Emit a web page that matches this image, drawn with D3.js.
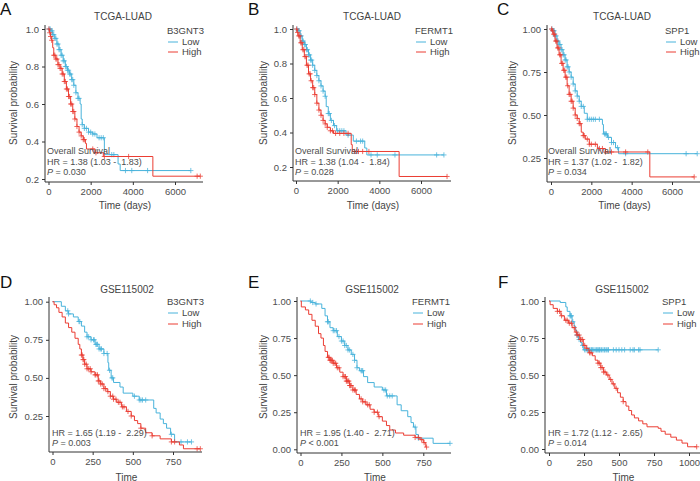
<!DOCTYPE html>
<html>
<head>
<meta charset="utf-8">
<script src="https://cdn.jsdelivr.net/npm/d3@7"></script>
<style>
  body { margin: 0; background: #fff; }
  text { font-family: "Liberation Sans", Arial, sans-serif; }
</style>
</head>
<body>
<svg id="chart" width="700" height="481"></svg>
<script>
// ---- data ----
const panelLetters = ["A", "B", "C", "D", "E", "F"];
const cohorts = ["TCGA-LUAD", "TCGA-LUAD", "TCGA-LUAD", "GSE115002", "GSE115002", "GSE115002"];
const genes = ["B3GNT3", "FERMT1", "SPP1", "B3GNT3", "FERMT1", "SPP1"];
const groups = ["Low", "High"];
const hrLabels = ["HR = 1.38 (1.03 -  1.83)", "HR = 1.38 (1.04 -  1.84)", "HR = 1.37 (1.02 -  1.82)",
                  "HR = 1.65 (1.19 -  2.29)", "HR = 1.95 (1.40 -  2.71)", "HR = 1.72 (1.12 -  2.65)"];
const pLabels = [" = 0.030", " = 0.028", " = 0.034", " = 0.003", " < 0.001", " = 0.014"];
const xTicksTcga = [0, 2000, 4000, 6000];
const xTicksGse = [0, 250, 500, 750];
const xTicksF = [0, 250, 500, 750, 1000];
const yTicksAB = [0.2, 0.4, 0.6, 0.8, 1.0];
const yTicksCD = [0.25, 0.50, 0.75, 1.00];
const yTicksEF = [0, 0.25, 0.50, 0.75, 1.00];

// step points [time, survival after step]
const aLow = [[0,1],[100,0.99],[200,0.97],[300,0.95],[400,0.92],[500,0.89],[600,0.86],[700,0.83],[800,0.80],[900,0.78],[1000,0.76],[1100,0.73],[1200,0.70],[1300,0.66],[1400,0.63],[1500,0.60],[1550,0.52],[1600,0.49],[1700,0.47],[1900,0.45],[2100,0.44],[2300,0.42],[2650,0.33],[3300,0.28],[3400,0.245]];
const aLowCens = [30,80,120,170,200,250,300,350,400,450,500,550,600,650,700,750,800,850,900,950,1000,1050,1100,1150,1200,1300,1400,1450,1600,1700,1800,1900,2000,2100,2200,2400,2500,2600,3000,3100,3650,3950,4700,6750];
const aHigh = [[0,1],[50,0.98],[100,0.96],[150,0.94],[200,0.90],[250,0.86],[350,0.84],[450,0.81],[550,0.79],[650,0.76],[750,0.72],[850,0.68],[950,0.64],[1050,0.60],[1150,0.56],[1250,0.52],[1350,0.48],[1450,0.45],[1550,0.43],[1650,0.41],[1750,0.39],[1800,0.36],[2200,0.34],[2600,0.32],[4950,0.215]];
const aHighCens = [20,60,100,150,250,300,350,400,450,500,550,600,650,700,750,800,850,900,950,1000,1050,1100,1150,1200,1250,1350,1450,1550,1650,1700,2100,2250,2650,3800,7050,7200];

const bLow = [[0,1],[100,0.99],[200,0.96],[300,0.93],[400,0.91],[500,0.88],[600,0.85],[700,0.82],[800,0.79],[900,0.76],[1000,0.73],[1100,0.70],[1200,0.67],[1300,0.64],[1400,0.61],[1450,0.55],[1550,0.51],[1650,0.47],[1800,0.44],[1950,0.41],[2400,0.385],[2750,0.35],[3300,0.31],[3400,0.27]];
const bLowCens = [50,100,150,200,250,300,350,400,450,500,550,600,650,700,750,800,900,1000,1100,1200,1300,1400,1550,1600,1700,1850,2000,2100,2200,2300,2500,2900,3100,3200,3600,3900,4750,6750,7100];
const bHigh = [[0,1],[50,0.98],[100,0.96],[200,0.92],[300,0.88],[400,0.84],[500,0.79],[600,0.74],[700,0.70],[800,0.66],[900,0.62],[1000,0.57],[1100,0.53],[1200,0.50],[1300,0.47],[1400,0.45],[1500,0.43],[1650,0.41],[1800,0.395],[2650,0.33],[2700,0.29],[4950,0.145]];
const bHighCens = [30,80,130,180,230,280,330,380,430,480,530,580,630,680,730,800,850,900,1000,1100,1200,1300,1400,1500,1650,1750,1900,2100,2300,2500,2800,2900,3000,3200,3500,7250];

const cLow = [[0,1],[100,0.99],[200,0.96],[300,0.93],[400,0.91],[500,0.88],[600,0.85],[700,0.82],[800,0.78],[900,0.75],[1000,0.72],[1100,0.68],[1200,0.64],[1300,0.61],[1400,0.58],[1500,0.55],[1650,0.51],[1800,0.475],[2550,0.445],[2600,0.39],[2800,0.37],[3000,0.34],[3200,0.31],[3350,0.275]];
const cLowCens = [50,100,150,200,250,300,350,400,450,500,550,600,650,700,750,800,850,900,1000,1100,1200,1300,1400,1500,1600,1800,1900,2000,2100,2200,2400,2650,2700,2750,2850,3000,3100,3300,3700,6700,7250];
const cHigh = [[0,1],[50,0.99],[100,0.97],[200,0.93],[300,0.89],[400,0.85],[500,0.80],[600,0.76],[700,0.72],[800,0.67],[900,0.62],[1000,0.58],[1100,0.54],[1200,0.50],[1300,0.48],[1400,0.45],[1500,0.40],[1600,0.38],[1700,0.36],[1900,0.33],[2300,0.305],[2700,0.285],[4900,0.14]];
const cHighCens = [30,80,130,180,230,280,330,380,430,480,530,580,630,680,730,780,830,900,950,1000,1050,1100,1200,1300,1400,1450,1600,1650,1800,1900,2000,2200,2400,2550,2700,3000,3700,4800,7100];

const dLow = [[0,1],[55,0.97],[80,0.94],[100,0.92],[130,0.90],[160,0.87],[180,0.84],[200,0.80],[215,0.77],[240,0.75],[265,0.72],[290,0.69],[320,0.66],[345,0.60],[350,0.55],[365,0.50],[380,0.47],[420,0.44],[440,0.40],[500,0.38],[540,0.355],[630,0.30],[645,0.27],[670,0.23],[690,0.20],[710,0.17],[735,0.13],[760,0.08]];
const dLowCens = [95,100,165,170,215,225,240,255,260,270,275,280,290,300,305,320,340,355,370,375,510,540,550,560,580,740,800,840,865];
const dHigh = [[0,1],[10,0.98],[25,0.96],[40,0.93],[60,0.90],[80,0.86],[100,0.83],[120,0.80],[140,0.76],[160,0.72],[170,0.69],[180,0.65],[190,0.62],[200,0.59],[215,0.56],[240,0.54],[265,0.52],[285,0.48],[300,0.46],[320,0.43],[340,0.41],[360,0.38],[380,0.36],[400,0.34],[430,0.31],[460,0.28],[490,0.25],[510,0.22],[530,0.20],[550,0.17],[580,0.14],[620,0.12],[670,0.10],[740,0.08],[790,0.06],[815,0.035]];
const dHighCens = [180,185,190,195,200,210,215,225,235,240,265,270,280,285,290,300,310,320,330,345,360,375,380,395,410,420,435,445,470,490,550,620,740,760,900,920];

const eLow = [[0,1],[65,0.99],[90,0.98],[130,0.95],[150,0.90],[165,0.86],[180,0.82],[200,0.80],[225,0.76],[250,0.73],[270,0.70],[290,0.67],[310,0.64],[330,0.60],[345,0.55],[360,0.53],[385,0.49],[410,0.45],[450,0.42],[500,0.40],[525,0.36],[590,0.30],[615,0.26],[655,0.22],[675,0.18],[690,0.15],[705,0.10],[720,0.075],[810,0.04]];
const eLowCens = [60,75,95,165,170,200,210,220,235,250,260,270,280,290,300,320,330,345,370,375,380,510,520,530,545,560,700,720,913];
const eHigh = [[0,1],[5,0.96],[30,0.94],[50,0.91],[70,0.87],[90,0.83],[110,0.78],[125,0.75],[140,0.70],[150,0.66],[165,0.62],[180,0.60],[200,0.58],[220,0.55],[240,0.52],[260,0.49],[280,0.46],[300,0.43],[320,0.40],[340,0.37],[360,0.34],[380,0.32],[400,0.30],[425,0.27],[450,0.25],[475,0.22],[500,0.19],[525,0.16],[545,0.13],[580,0.11],[630,0.095],[700,0.08],[730,0.065],[750,0.045],[765,0.015]];
const eHighCens = [170,175,180,185,190,195,200,210,215,225,235,260,270,275,280,285,290,295,300,305,310,320,330,335,370,380,395,410,420,450,470,480,700,720,740,755,770];

const fLow = [[0,1],[80,0.99],[120,0.96],[130,0.93],[150,0.90],[165,0.86],[180,0.83],[190,0.80],[200,0.77],[210,0.74],[225,0.72],[235,0.70],[245,0.67]];
const fLowCens = [150,155,160,170,200,205,215,240,255,265,275,285,290,300,305,310,320,330,340,345,355,360,365,375,385,395,400,410,420,425,460,480,500,520,540,580,600,610,640,650,780];
const fHigh = [[0,1],[8,0.975],[30,0.95],[60,0.93],[85,0.90],[110,0.87],[140,0.85],[165,0.82],[185,0.79],[200,0.77],[220,0.74],[245,0.70],[265,0.68],[285,0.65],[310,0.63],[330,0.60],[350,0.58],[370,0.55],[390,0.52],[410,0.50],[430,0.47],[450,0.44],[470,0.41],[490,0.38],[510,0.35],[530,0.32],[550,0.29],[570,0.26],[590,0.23],[610,0.21],[640,0.19],[670,0.17],[700,0.15],[780,0.14],[800,0.12],[830,0.10],[870,0.08],[910,0.06],[950,0.04],[990,0.015]];
const fHighCens = [60,75,90,120,130,145,160,180,195,200,215,225,230,240,255,270,290,300,350,360,370,380,390,400,420,440,460,480,530,1055];

const curves = [
  [aLow, aLowCens, aHigh, aHighCens],
  [bLow, bLowCens, bHigh, bHighCens],
  [cLow, cLowCens, cHigh, cHighCens],
  [dLow, dLowCens, dHigh, dHighCens],
  [eLow, eLowCens, eHigh, eHighCens],
  [fLow, fLowCens, fHigh, fHighCens]
];

// ---- layout ----
const colors = { Low: "#48B3DB", High: "#EB3D33" };
const textGrey = "#4D4D4D";

const layout = [
  { xd: [0, 6000], xr: [48.5, 175], yd: [0.2, 1], yr: [179, 29], box: [45, 203, 25, 182], xt: xTicksTcga, yt: yTicksAB, yf: ".1f",
    letterX: 0, titleX: 123, legX: 167, noteX: 47, ylabX: 13, row: 0 },
  { xd: [0, 6000], xr: [296, 421], yd: [0.2, 1], yr: [167, 29], box: [293, 451, 25, 181], xt: xTicksTcga, yt: yTicksAB, yf: ".1f",
    letterX: 248, titleX: 372, legX: 415, noteX: 295, ylabX: 263, row: 0 },
  { xd: [0, 6000], xr: [551, 672], yd: [0.25, 1], yr: [158, 29], box: [547, 700, 25, 182], xt: xTicksTcga, yt: yTicksCD, yf: ".2f",
    letterX: 497, titleX: 622, legX: 665, noteX: 548, ylabX: 512, row: 0 },
  { xd: [0, 750], xr: [52.5, 173], yd: [0.25, 1], yr: [416, 301.7], box: [49, 202, 297, 452], xt: xTicksGse, yt: yTicksCD, yf: ".2f",
    letterX: 0, titleX: 127, legX: 167, noteX: 52, ylabX: 13, row: 1 },
  { xd: [0, 750], xr: [300.5, 423.3], yd: [0, 1], yr: [449.3, 301], box: [297, 451, 297, 453], xt: xTicksGse, yt: yTicksEF, yf: ".2f",
    letterX: 248, titleX: 372, legX: 412, noteX: 300, ylabX: 263, row: 1 },
  { xd: [0, 1000], xr: [549, 689], yd: [0, 1], yr: [449, 301], box: [545, 700, 297, 453], xt: xTicksF, yt: yTicksEF, yf: ".2f",
    letterX: 498, titleX: 622, legX: 662, noteX: 548, ylabX: 512, row: 1 }
];
const rows = [
  { letterY: 15, titleY: 16, legY: 31, lowY: 42, highY: 52, xlabY: 205, ylabY: 103, notes: [151, 162, 172] },
  { letterY: 288, titleY: 289, legY: 302, lowY: 313, highY: 324, xlabY: 477, ylabY: 377, notes: [433, 443] }
];

const svg = d3.select("#chart");

function survAt(steps, t) {
  let v = 1;
  for (const s of steps) { if (s[0] <= t) v = s[1]; else break; }
  return v;
}

layout.forEach((p, i) => {
  const r = rows[p.row];
  const x = d3.scaleLinear().domain(p.xd).range(p.xr);
  const y = d3.scaleLinear().domain(p.yd).range(p.yr);
  const g = svg.append("g");
  const [L, R, T, B] = p.box;

  // curves
  const [lowS, lowC, highS, highC] = curves[i];
  [[lowS, lowC, "Low"], [highS, highC, "High"]].forEach(([steps, cens, grp]) => {
    const end = Math.max(steps[steps.length - 1][0], d3.max(cens));
    let d = "M" + x(steps[0][0]) + "," + y(steps[0][1]);
    for (let k = 1; k < steps.length; k++) {
      d += "H" + x(steps[k][0]) + "V" + y(steps[k][1]);
    }
    d += "H" + x(end);
    g.append("path").attr("d", d).attr("fill", "none")
      .attr("stroke", colors[grp]).attr("stroke-width", 1);
    g.selectAll(null).data(cens).join("path")
      .attr("d", t => {
        const cx = x(t), cy = y(survAt(steps, t));
        return "M" + (cx - 2.6) + "," + cy + "H" + (cx + 2.6) + "M" + cx + "," + (cy - 2.6) + "V" + (cy + 2.6);
      })
      .attr("stroke", colors[grp]).attr("stroke-width", 0.9).attr("opacity", 0.85);
  });

  // axes
  const xa = g.append("g").attr("transform", "translate(0," + B + ")")
    .call(d3.axisBottom(x).tickValues(p.xt).tickFormat(d3.format("d")).tickSize(3).tickPadding(3).tickSizeOuter(0));
  const ya = g.append("g").attr("transform", "translate(" + L + ",0)")
    .call(d3.axisLeft(y).tickValues(p.yt).tickFormat(d3.format(p.yf)).tickSize(3).tickPadding(3).tickSizeOuter(0));
  [xa, ya].forEach(a => {
    a.select(".domain").remove();
    a.selectAll("line").attr("stroke", "#333");
    a.selectAll("text").attr("fill", textGrey).style("font-size", "9.5px");
  });
  g.append("line").attr("x1", L).attr("x2", R).attr("y1", B).attr("y2", B).attr("stroke", "#333").attr("stroke-width", 1);
  g.append("line").attr("x1", L).attr("x2", L).attr("y1", T).attr("y2", B).attr("stroke", "#333").attr("stroke-width", 1);

  // labels
  g.append("text").attr("x", p.letterX).attr("y", r.letterY).text(panelLetters[i])
    .style("font-size", "17px").attr("fill", "#111");
  g.append("text").attr("x", p.titleX).attr("y", r.titleY).attr("dy", "0.35em").attr("text-anchor", "middle")
    .text(cohorts[i]).style("font-size", "10px").attr("fill", "#444");
  g.append("text").attr("x", (L + R) / 2 + 1).attr("y", r.xlabY).attr("dy", "0.35em").attr("text-anchor", "middle")
    .text(p.row === 0 ? "Time (days)" : "Time").style("font-size", "10px").attr("fill", "#444");
  g.append("text").attr("transform", "translate(" + p.ylabX + "," + r.ylabY + ") rotate(-90)")
    .attr("dy", "0.35em").attr("text-anchor", "middle")
    .text("Survival probability").style("font-size", "10px").attr("fill", "#444");

  // legend
  g.append("text").attr("x", p.legX).attr("y", r.legY).attr("dy", "0.35em")
    .text(genes[i]).style("font-size", "9.5px").attr("fill", "#444");
  groups.forEach((grp, k) => {
    const ly = k === 0 ? r.lowY : r.highY;
    g.append("line").attr("x1", p.legX + 1).attr("x2", p.legX + 11).attr("y1", ly).attr("y2", ly)
      .attr("stroke", colors[grp]).attr("stroke-width", 1);
    g.append("text").attr("x", p.legX + 15).attr("y", ly).attr("dy", "0.35em")
      .text(grp).style("font-size", "9.5px").attr("fill", "#444");
  });

  // annotation
  let ni = 0;
  if (p.row === 0) {
    g.append("text").attr("x", p.noteX).attr("y", r.notes[ni++]).attr("dy", "0.35em")
      .text("Overall Survival").style("font-size", "9px").attr("fill", textGrey);
  }
  g.append("text").attr("x", p.noteX).attr("y", r.notes[ni++]).attr("dy", "0.35em")
    .style("white-space", "pre").text(hrLabels[i]).style("font-size", "9px").attr("fill", textGrey);
  const pt = g.append("text").attr("x", p.noteX).attr("y", r.notes[ni]).attr("dy", "0.35em")
    .style("font-size", "9px").attr("fill", textGrey).style("white-space", "pre");
  pt.append("tspan").style("font-style", "italic").text("P");
  pt.append("tspan").text(pLabels[i]);
});
</script>
</body>
</html>
